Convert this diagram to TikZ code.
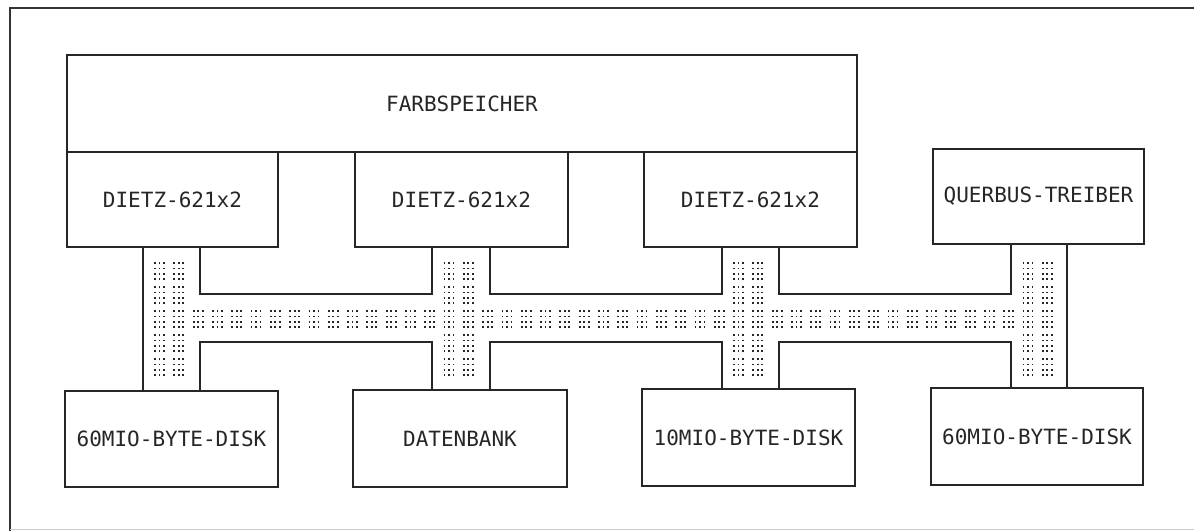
\documentclass[tikz,border=0pt]{standalone}
\usepackage{fontspec}
\newfontfamily\plotfont{DejaVu Sans Mono}
\tikzset{
  box/.style={draw=black!85, line width=1.7pt, rectangle, inner sep=0pt,
    font=\plotfont\fontsize{21}{25}\selectfont, text=black!85},
  bus/.style={draw=black!85, line width=1.7pt},
  frame/.style={draw=black!80, line width=1.4pt},
  dotc/.style={fill=black!85}
}
\begin{document}
\begin{tikzpicture}[x=1pt,y=-1pt]
\useasboundingbox (0,0) rectangle (1194,531);
% outer frame
\coordinate (ftl) at (10,8);
\coordinate (fbl) at (10,531);
\coordinate (ftr) at (1194,8);
\coordinate (fbr) at (1194,529);
\draw[frame] (fbl) -- (ftl) -- (ftr);
\draw[draw=black!20, line width=1pt] (10,529) -- (fbr);
% boxes
\node[box, minimum width=790, minimum height=97] (farb) at (462,103.5) {FARBSPEICHER};
\node[box, minimum width=211, minimum height=95] (d1) at (172.5,199.5) {DIETZ-621x2};
\node[box, minimum width=213, minimum height=95] (d2) at (461.5,199.5) {DIETZ-621x2};
\node[box, minimum width=213, minimum height=95] (d3) at (750.5,199.5) {DIETZ-621x2};
\node[box, minimum width=211, minimum height=95] (q) at (1038.5,196.5) {QUERBUS-TREIBER};
\node[box, minimum width=213, minimum height=96] (b1) at (171.5,439) {60MIO-BYTE-DISK};
\node[box, minimum width=214, minimum height=97] (b2) at (460,438.5) {DATENBANK};
\node[box, minimum width=213, minimum height=97] (b3) at (748.5,437.5) {10MIO-BYTE-DISK};
\node[box, minimum width=212, minimum height=97] (b4) at (1037,436.5) {60MIO-BYTE-DISK};
% bus geometry
\coordinate (c1l) at (143,0); \coordinate (c1r) at (200,0);
\coordinate (c2l) at (432,0); \coordinate (c2r) at (490,0);
\coordinate (c3l) at (722,0); \coordinate (c3r) at (779,0);
\coordinate (c4l) at (1011,0); \coordinate (c4r) at (1067,0);
\coordinate (bt) at (0,294); \coordinate (bb) at (0,342);
% dots
\foreach \k in {0,...,46}
  \foreach \i in {0,1,2}
    \foreach \j in {0,1,2,3}
      \fill[dotc] ({155+19.3*\k+4.5*\i-0.9},{311+5.4*\j-0.9}) rectangle +(1.8,1.8);
\foreach \k in {0,1,15,16,30,31,45,46}
  \foreach \g in {263,287,335,359}
    \foreach \i in {0,1,2}
      \foreach \j in {0,1,2,3}
        \fill[dotc] ({155+19.3*\k+4.5*\i-0.9},{\g+5.4*\j-0.9}) rectangle +(1.8,1.8);
% bus outline
\draw[bus] (d1.south -| c1l) -- (b1.north -| c1l);
\draw[bus] (q.south -| c4r) -- (b4.north -| c4r);
\draw[bus] (d1.south -| c1r) |- (c2l |- bt) -- (d2.south -| c2l);
\draw[bus] (d2.south -| c2r) |- (c3l |- bt) -- (d3.south -| c3l);
\draw[bus] (d3.south -| c3r) |- (c4l |- bt) -- (q.south -| c4l);
\draw[bus] (b1.north -| c1r) |- (c2l |- bb) -- (b2.north -| c2l);
\draw[bus] (b2.north -| c2r) |- (c3l |- bb) -- (b3.north -| c3l);
\draw[bus] (b3.north -| c3r) |- (c4l |- bb) -- (b4.north -| c4l);
\end{tikzpicture}
\end{document}
